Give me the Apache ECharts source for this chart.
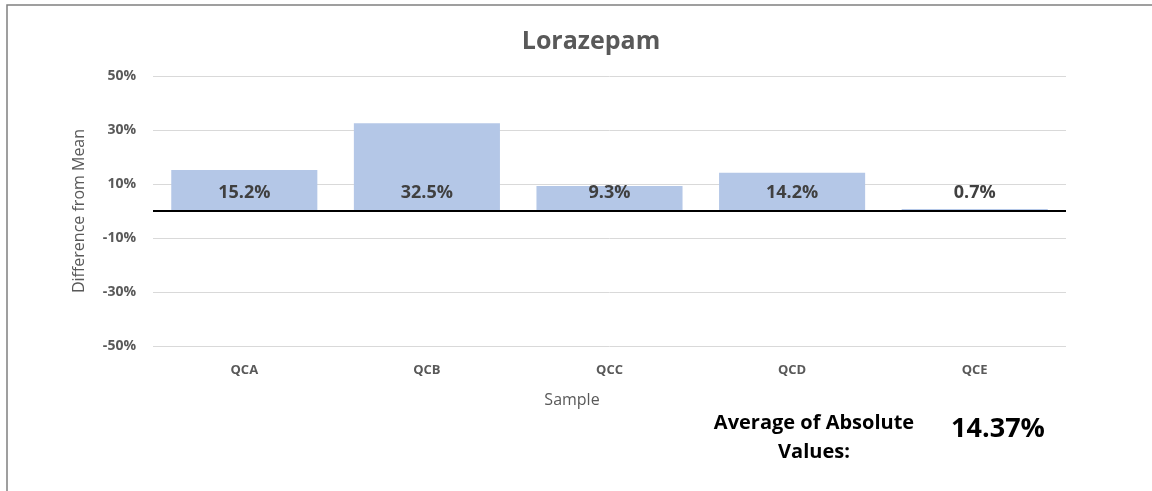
<!DOCTYPE html>
<html>
<head>
<meta charset="utf-8">
<script src="https://cdn.jsdelivr.net/npm/echarts@6/dist/echarts.min.js"></script>
<style>
  html, body { margin: 0; padding: 0; background: #fff; }
  #chart { width: 1152px; height: 491px; }
</style>
</head>
<body>
<div id="chart"></div>
<script>
var samples = ['QCA', 'QCB', 'QCC', 'QCD', 'QCE'];
var diffFromMean = [15.2, 32.5, 9.3, 14.2, 0.7];
var averageAbs = '14.37%';

var font = '"Open Sans", sans-serif';

echarts.init(document.getElementById('chart')).setOption({
  animation: false,
  title: {
    text: 'Lorazepam',
    left: 586,
    top: 24,
    textAlign: 'center',
    textStyle: { fontFamily: font, fontSize: 25, fontWeight: 'bold', color: '#595959' }
  },
  grid: { left: 153, right: 86, top: 76, bottom: 145 },
  xAxis: {
    type: 'category',
    data: samples,
    axisLine: { show: false },
    axisTick: { show: false },
    axisLabel: { margin: 18, fontFamily: font, fontSize: 13, fontWeight: 'bold', color: '#595959' }
  },
  yAxis: {
    type: 'value',
    min: -50,
    max: 50,
    interval: 20,
    name: 'Difference from Mean',
    nameLocation: 'middle',
    nameGap: 66,
    nameTextStyle: { fontFamily: font, fontSize: 16, color: '#595959' },
    axisLabel: { margin: 17, formatter: '{value}%', fontFamily: font, fontSize: 14, fontWeight: 'bold', color: '#595959' },
    splitLine: { lineStyle: { color: '#d9d9d9', width: 1 } }
  },
  series: [{
    type: 'bar',
    data: diffFromMean,
    barCategoryGap: '20%',
    itemStyle: { color: '#b4c7e7' },
    label: {
      show: true,
      position: 'insideBottom',
      distance: 9,
      formatter: '{c}%',
      fontFamily: font,
      fontSize: 18,
      fontWeight: 'bold',
      color: '#404040'
    },
    markLine: {
      silent: true,
      symbol: 'none',
      label: { show: false },
      lineStyle: { color: '#000', width: 2, type: 'solid' },
      data: [{ yAxis: 0 }]
    }
  }],
  graphic: [
    { type: 'rect', shape: { x: 7, y: 5, width: 1200, height: 600 }, style: { fill: 'none', stroke: '#808080', lineWidth: 1.5 }, silent: true },
    { type: 'text', x: 572, y: 400, style: { text: 'Sample', textAlign: 'center', textVerticalAlign: 'middle', font: '16px ' + font, fill: '#595959' } },
    { type: 'text', x: 814, y: 438, style: { text: 'Average of Absolute\nValues:', textAlign: 'center', textVerticalAlign: 'middle', lineHeight: 29, font: 'bold 20px ' + font, fill: '#000' } },
    { type: 'text', x: 998, y: 429, style: { text: averageAbs, textAlign: 'center', textVerticalAlign: 'middle', font: 'bold 27px ' + font, fill: '#000' } }
  ]
});
</script>
</body>
</html>
